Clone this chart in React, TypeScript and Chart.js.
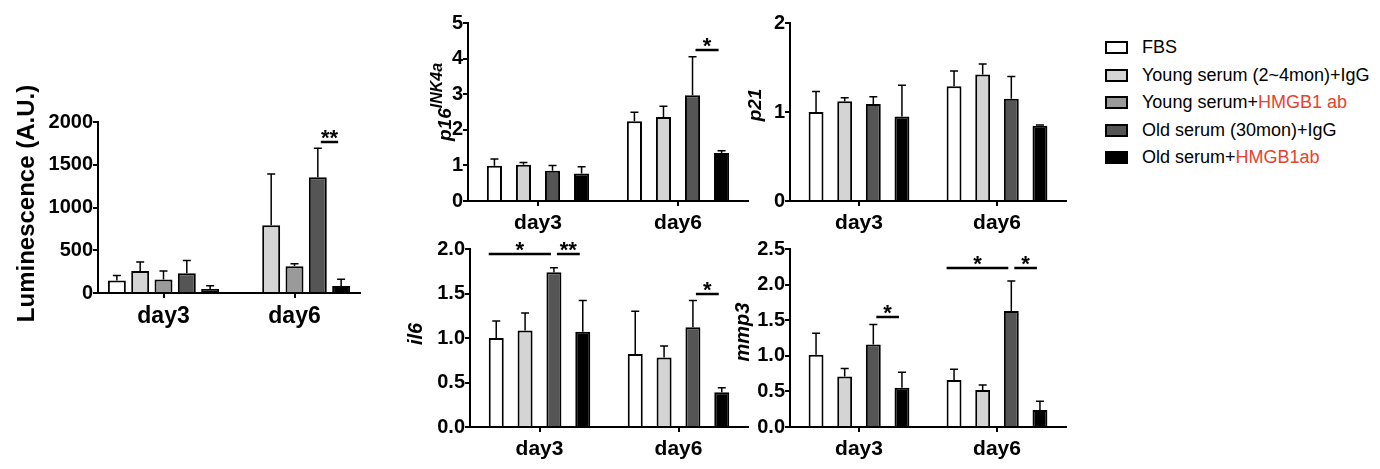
import React, { useEffect, useRef } from "react";
import { Chart, registerables } from "chart.js";
Chart.register(...registerables);

const FAMILY = "'Liberation Sans', Arial, Helvetica, sans-serif";

const DAYS = ["day3", "day6"];
const GROUP_COLORS = ["#ffffff", "#d4d4d4", "#9a9a9a", "#555555", "#000000"];

// Legend text (black part + red part)
const legendBlack = ["FBS", "Young serum (2~4mon)+IgG", "Young serum+", "Old serum (30mon)+IgG", "Old serum+"];
const legendRed = ["", "", "HMGB1 ab", "", "HMGB1ab"];

// Luminescence: 5 groups, each [day3, day6]
const lumGroups = [0, 1, 2, 3, 4];
const lumMean = [[145, 10], [258, 792], [157, 312], [232, 1353], [47, 82]];
const lumErr = [[60, 0], [104, 600], [101, 31], [148, 339], [37, 78]];
const lumSig = [{ day: 1, from: 3, to: 4, y: 1770, label: "**" }];

// Gene panels: 4 groups (FBS, Young IgG, Old IgG, Old HMGB1ab)
const geneGroups = [0, 1, 3, 4];

const p16Mean = [[0.99, 2.24], [1.02, 2.36], [0.85, 2.97], [0.77, 1.35]];
const p16Err = [[0.19, 0.25], [0.06, 0.3], [0.15, 1.08], [0.19, 0.06]];
const p16Sig = [{ day: 1, from: 2, to: 3, y: 4.23, label: "*" }];

const p21Mean = [[1.0, 1.29], [1.12, 1.42], [1.09, 1.15], [0.95, 0.845]];
const p21Err = [[0.23, 0.17], [0.04, 0.12], [0.08, 0.25], [0.35, 0.01]];
const p21Sig: any[] = [];

const il6Mean = [[1.0, 0.82], [1.085, 0.78], [1.74, 1.12], [1.07, 0.39]];
const il6Err = [[0.19, 0.48], [0.195, 0.13], [0.05, 0.3], [0.35, 0.05]];
const il6Sig = [
  { day: 0, from: 0, to: 2, y: 1.94, label: "*" },
  { day: 0, from: 2, to: 3, y: 1.94, label: "**" },
  { day: 1, from: 2, to: 3, y: 1.5, label: "*" },
];

const mmp3Mean = [[1.015, 0.66], [0.71, 0.52], [1.16, 1.63], [0.55, 0.24]];
const mmp3Err = [[0.3, 0.15], [0.11, 0.07], [0.28, 0.42], [0.22, 0.12]];
const mmp3Sig = [
  { day: 0, from: 2, to: 3, y: 1.545, label: "*" },
  { day: 1, from: 0, to: 2, y: 2.23, label: "*" },
  { day: 1, from: 2, to: 3, y: 2.23, label: "*" },
];

type PanelProps = {
  box: { left: number; top: number; w: number; h: number };
  area: { l: number; t: number; r: number; b: number };
  groups: number[];
  mean: number[][];
  err: number[][];
  sig: any[];
  yMax: number;
  yStep: number;
  decimals: number;
  catPct: number;
  barPct: number;
  xFont: number;
  title: { text: string; sup?: string; size: number; supSize?: number; supRaise?: number; italic: boolean; offset: number; dy: number };
};

function Panel(p: PanelProps) {
  const ref = useRef<HTMLCanvasElement>(null);
  useEffect(() => {
    const { box, area } = p;
    const overlay = {
      id: "overlay",
      afterDatasetsDraw(chart: any) {
        const ctx = chart.ctx;
        const y = chart.scales.y;
        const ca = chart.chartArea;
        ctx.save();
        ctx.strokeStyle = "#000";
        ctx.lineWidth = 1.5;
        p.mean.forEach((series, di) => {
          const meta = chart.getDatasetMeta(di);
          meta.data.forEach((bar: any, i: number) => {
            const e = p.err[di][i];
            if (!e) return;
            const top = y.getPixelForValue(series[i] + e);
            ctx.beginPath();
            ctx.moveTo(bar.x, bar.y);
            ctx.lineTo(bar.x, top);
            ctx.moveTo(bar.x - 4, top);
            ctx.lineTo(bar.x + 4, top);
            ctx.stroke();
          });
        });
        ctx.lineWidth = 2.5;
        ctx.fillStyle = "#000";
        ctx.font = `bold 22px ${FAMILY}`;
        ctx.textAlign = "center";
        ctx.textBaseline = "alphabetic";
        p.sig.forEach((s: any) => {
          const a = chart.getDatasetMeta(s.from).data[s.day];
          const b = chart.getDatasetMeta(s.to).data[s.day];
          const x1 = s.from === 0 ? a.x - a.width / 2 : a.x + 3;
          const x2 = b.x - 3;
          const yy = Math.round(y.getPixelForValue(s.y));
          ctx.beginPath();
          ctx.moveTo(x1, yy);
          ctx.lineTo(x2, yy);
          ctx.stroke();
          ctx.fillText(s.label, (x1 + x2) / 2, yy + 3);
        });
        // rotated axis title
        const t = p.title;
        ctx.translate(ca.left - t.offset, (ca.top + ca.bottom) / 2 + t.dy);
        ctx.rotate(-Math.PI / 2);
        const mainFont = `${t.italic ? "italic " : ""}bold ${t.size}px ${FAMILY}`;
        const supFont = `${t.italic ? "italic " : ""}bold ${t.supSize || 12}px ${FAMILY}`;
        ctx.font = mainFont;
        const w1 = ctx.measureText(t.text).width;
        let w2 = 0;
        if (t.sup) {
          ctx.font = supFont;
          w2 = ctx.measureText(t.sup).width;
        }
        const start = -(w1 + w2) / 2;
        ctx.textAlign = "left";
        ctx.font = mainFont;
        ctx.fillText(t.text, start, 0);
        if (t.sup) {
          ctx.font = supFont;
          ctx.fillText(t.sup, start + w1, -(t.supRaise || 8));
        }
        ctx.restore();
      },
    };
    const chart = new Chart(ref.current as HTMLCanvasElement, {
      type: "bar",
      data: {
        labels: DAYS,
        datasets: p.mean.map((series, di) => ({
          label: String(di),
          data: series,
          backgroundColor: GROUP_COLORS[p.groups[di]],
          borderColor: "#000",
          borderWidth: 2,
          categoryPercentage: p.catPct,
          barPercentage: p.barPct,
        })),
      },
      options: {
        responsive: false,
        animation: false,
        events: [],
        layout: {
          padding: {
            left: 0,
            top: area.t - box.top,
            right: box.left + box.w - area.r,
            bottom: 0,
          },
        },
        plugins: { legend: { display: false }, tooltip: { enabled: false }, title: { display: false } },
        scales: {
          x: {
            type: "category",
            offset: true,
            grid: { offset: false, drawOnChartArea: false, drawTicks: true, tickLength: 5, color: "#000", lineWidth: 2 },
            border: { display: true, color: "#000", width: 2 },
            ticks: { color: "#000", padding: 5, font: { family: FAMILY, size: p.xFont, weight: "bold" } },
            afterFit: (s: any) => {
              s.height = box.top + box.h - area.b;
            },
          },
          y: {
            min: 0,
            max: p.yMax,
            grid: { drawOnChartArea: false, drawTicks: true, tickLength: 5, color: "#000", lineWidth: 2 },
            border: { display: true, color: "#000", width: 2 },
            ticks: {
              stepSize: p.yStep,
              color: "#000",
              padding: 0,
              font: { family: FAMILY, size: 20, weight: "bold" },
              callback: (v: any) => Number(v).toFixed(p.decimals),
            },
            afterFit: (s: any) => {
              s.width = area.l - box.left;
            },
          },
        },
      } as any,
      plugins: [overlay],
    });
    return () => chart.destroy();
  }, []);
  return (
    <canvas
      ref={ref}
      width={p.box.w}
      height={p.box.h}
      style={{ position: "absolute", left: p.box.left, top: p.box.top, width: p.box.w, height: p.box.h }}
    />
  );
}

export default function App() {
  return (
    <div style={{ position: "absolute", left: 0, top: 0, width: 1380, height: 469, background: "#fff", overflow: "hidden" }}>
      <Panel
        box={{ left: 0, top: 60, w: 375, h: 280 }}
        area={{ l: 98, t: 122, r: 360, b: 293 }}
        groups={lumGroups}
        mean={lumMean}
        err={lumErr}
        sig={lumSig}
        yMax={2000}
        yStep={500}
        decimals={0}
        catPct={0.89}
        barPct={0.77}
        xFont={23}
        title={{ text: "Luminescence (A.U.)", size: 24, italic: false, offset: 64, dy: -4 }}
      />
      <Panel
        box={{ left: 400, top: 0, w: 360, h: 235 }}
        area={{ l: 468, t: 23, r: 748, b: 201 }}
        groups={geneGroups}
        mean={p16Mean}
        err={p16Err}
        sig={p16Sig}
        yMax={5}
        yStep={1}
        decimals={0}
        catPct={0.83}
        barPct={0.52}
        xFont={21}
        title={{ text: "p16", sup: "INK4a", size: 19, supSize: 16, supRaise: 9, italic: true, offset: 17, dy: -10 }}
      />
      <Panel
        box={{ left: 720, top: 0, w: 360, h: 235 }}
        area={{ l: 790, t: 23, r: 1066, b: 201 }}
        groups={geneGroups}
        mean={p21Mean}
        err={p21Err}
        sig={p21Sig}
        yMax={2}
        yStep={1}
        decimals={0}
        catPct={0.83}
        barPct={0.52}
        xFont={21}
        title={{ text: "p21", size: 19, italic: true, offset: 29, dy: -7 }}
      />
      <Panel
        box={{ left: 400, top: 225, w: 360, h: 244 }}
        area={{ l: 470, t: 249, r: 748, b: 427 }}
        groups={geneGroups}
        mean={il6Mean}
        err={il6Err}
        sig={il6Sig}
        yMax={2}
        yStep={0.5}
        decimals={1}
        catPct={0.83}
        barPct={0.52}
        xFont={21}
        title={{ text: "il6", size: 20, italic: true, offset: 48, dy: -4 }}
      />
      <Panel
        box={{ left: 720, top: 225, w: 360, h: 244 }}
        area={{ l: 790, t: 249, r: 1066, b: 427 }}
        groups={geneGroups}
        mean={mmp3Mean}
        err={mmp3Err}
        sig={mmp3Sig}
        yMax={2.5}
        yStep={0.5}
        decimals={1}
        catPct={0.83}
        barPct={0.52}
        xFont={21}
        title={{ text: "mmp3", size: 20, italic: true, offset: 41, dy: -6 }}
      />
      <div style={{ position: "absolute", left: 1105, top: 34, fontFamily: FAMILY, fontSize: 18, color: "#000" }}>
        {legendBlack.map((t, i) => (
          <div key={i} style={{ display: "flex", alignItems: "center", height: 27.5, whiteSpace: "nowrap" }}>
            <span
              style={{
                display: "inline-block",
                width: 23,
                height: 13,
                border: "2px solid #000",
                boxSizing: "border-box",
                background: GROUP_COLORS[i],
                marginRight: 14,
              }}
            />
            <span>
              {t}
              <span style={{ color: "#e5432f" }}>{legendRed[i]}</span>
            </span>
          </div>
        ))}
      </div>
    </div>
  );
}
